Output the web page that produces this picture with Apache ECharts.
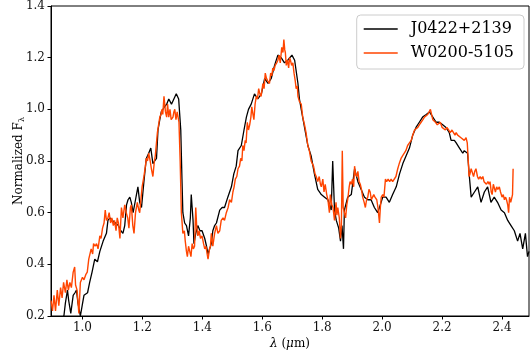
<!DOCTYPE html>
<html>
<head>
<meta charset="utf-8">
<script src="https://cdn.jsdelivr.net/npm/echarts@6/dist/echarts.min.js"></script>
<style>html,body{margin:0;padding:0;background:#fff}#c{width:530px;height:356px}</style>
</head>
<body>
<div id="c"></div>
<script>
const seriesNames = ['J0422+2139', 'W0200-5105'];
const xTicks = [1.0, 1.2, 1.4, 1.6, 1.8, 2.0, 2.2, 2.4];
const yTicks = [0.2, 0.4, 0.6, 0.8, 1.0, 1.2, 1.4];

const blackWl = [0.930,0.938,0.943,0.950,0.954,0.961,0.969,0.975,0.980,0.985,0.993,0.999,1.005,1.011,1.017,1.024,1.032,1.041,1.050,1.058,1.069,1.080,1.085,1.092,1.100,1.110,1.120,1.128,1.135,1.141,1.147,1.152,1.158,1.163,1.169,1.177,1.185,1.191,1.197,1.205,1.213,1.221,1.228,1.235,1.241,1.247,1.252,1.258,1.263,1.274,1.281,1.288,1.297,1.305,1.313,1.321,1.328,1.332,1.335,1.341,1.347,1.354,1.360,1.363,1.366,1.369,1.372,1.378,1.385,1.392,1.399,1.408,1.414,1.419,1.424,1.430,1.435,1.441,1.447,1.458,1.466,1.474,1.485,1.497,1.505,1.513,1.519,1.530,1.539,1.547,1.554,1.563,1.574,1.585,1.597,1.608,1.619,1.630,1.641,1.652,1.663,1.674,1.685,1.699,1.708,1.719,1.724,1.730,1.741,1.752,1.763,1.774,1.785,1.797,1.808,1.819,1.830,1.835,1.841,1.847,1.855,1.861,1.866,1.871,1.874,1.885,1.897,1.908,1.919,1.930,1.941,1.952,1.963,1.974,1.985,1.991,2.002,2.013,2.024,2.035,2.047,2.058,2.069,2.080,2.091,2.102,2.113,2.124,2.135,2.147,2.158,2.169,2.180,2.191,2.202,2.213,2.224,2.230,2.241,2.247,2.258,2.269,2.274,2.285,2.291,2.297,2.308,2.319,2.330,2.341,2.352,2.363,2.374,2.385,2.397,2.408,2.419,2.430,2.441,2.452,2.460,2.469,2.478,2.485,2.490];
const blackFlux = [0.17,0.20,0.25,0.30,0.26,0.21,0.28,0.29,0.30,0.25,0.20,0.24,0.28,0.28,0.29,0.33,0.37,0.42,0.41,0.45,0.49,0.52,0.57,0.58,0.57,0.56,0.55,0.53,0.52,0.55,0.63,0.65,0.66,0.64,0.60,0.65,0.70,0.64,0.62,0.72,0.81,0.83,0.85,0.79,0.80,0.81,0.92,0.96,0.99,1.01,1.02,1.04,1.02,1.04,1.06,1.04,0.92,0.73,0.60,0.56,0.55,0.51,0.58,0.67,0.62,0.57,0.48,0.52,0.55,0.53,0.53,0.50,0.47,0.44,0.44,0.48,0.53,0.55,0.56,0.61,0.62,0.62,0.66,0.70,0.75,0.78,0.84,0.86,0.92,0.97,1.00,1.02,1.06,1.04,1.06,1.12,1.10,1.12,1.17,1.21,1.20,1.18,1.19,1.21,1.19,1.10,1.04,1.00,0.93,0.86,0.82,0.75,0.69,0.67,0.66,0.65,0.61,0.80,0.61,0.57,0.54,0.49,0.55,0.46,0.61,0.66,0.67,0.77,0.72,0.69,0.66,0.65,0.65,0.62,0.60,0.62,0.66,0.66,0.64,0.67,0.70,0.75,0.79,0.82,0.85,0.90,0.93,0.95,0.97,0.98,0.99,0.97,0.95,0.95,0.94,0.93,0.91,0.88,0.88,0.87,0.85,0.83,0.84,0.83,0.74,0.66,0.68,0.70,0.64,0.68,0.70,0.64,0.66,0.64,0.61,0.60,0.57,0.55,0.53,0.49,0.52,0.46,0.52,0.43,0.45];

const orangeWl = [0.895,0.900,0.905,0.910,0.916,0.921,0.927,0.932,0.937,0.943,0.948,0.953,0.958,0.963,0.969,0.974,0.977,0.982,0.988,0.993,1.000,1.005,1.011,1.016,1.021,1.029,1.034,1.037,1.042,1.047,1.052,1.058,1.062,1.067,1.072,1.076,1.080,1.085,1.089,1.094,1.098,1.103,1.107,1.112,1.116,1.120,1.125,1.130,1.135,1.141,1.146,1.151,1.155,1.160,1.163,1.168,1.172,1.177,1.183,1.188,1.191,1.199,1.205,1.210,1.213,1.217,1.221,1.226,1.230,1.235,1.240,1.243,1.250,1.254,1.258,1.262,1.265,1.268,1.272,1.277,1.281,1.284,1.288,1.292,1.296,1.302,1.305,1.308,1.312,1.316,1.319,1.322,1.326,1.330,1.335,1.340,1.343,1.347,1.350,1.354,1.358,1.362,1.366,1.370,1.374,1.378,1.381,1.385,1.389,1.394,1.399,1.404,1.408,1.412,1.416,1.419,1.424,1.427,1.430,1.435,1.441,1.447,1.452,1.458,1.463,1.469,1.474,1.480,1.486,1.491,1.497,1.502,1.506,1.510,1.515,1.519,1.524,1.528,1.532,1.535,1.539,1.543,1.546,1.550,1.554,1.558,1.562,1.565,1.569,1.572,1.576,1.580,1.584,1.588,1.592,1.596,1.602,1.606,1.610,1.614,1.618,1.624,1.628,1.632,1.635,1.639,1.643,1.648,1.652,1.656,1.660,1.665,1.669,1.672,1.675,1.677,1.680,1.684,1.688,1.691,1.694,1.698,1.702,1.706,1.710,1.713,1.717,1.719,1.724,1.730,1.735,1.741,1.746,1.752,1.757,1.763,1.767,1.771,1.776,1.780,1.785,1.790,1.794,1.797,1.802,1.806,1.810,1.815,1.819,1.824,1.827,1.832,1.836,1.841,1.846,1.849,1.852,1.857,1.861,1.864,1.867,1.870,1.874,1.878,1.882,1.885,1.890,1.893,1.897,1.901,1.905,1.908,1.911,1.915,1.919,1.923,1.927,1.931,1.935,1.940,1.944,1.948,1.952,1.956,1.960,1.964,1.968,1.972,1.976,1.982,1.986,1.991,1.994,1.997,2.002,2.006,2.011,2.015,2.020,2.025,2.030,2.035,2.041,2.046,2.052,2.057,2.063,2.068,2.074,2.079,2.085,2.091,2.097,2.102,2.108,2.113,2.119,2.124,2.130,2.136,2.141,2.147,2.152,2.157,2.161,2.165,2.169,2.174,2.178,2.184,2.189,2.194,2.200,2.206,2.211,2.216,2.222,2.227,2.233,2.238,2.243,2.247,2.252,2.258,2.263,2.269,2.274,2.280,2.284,2.287,2.290,2.293,2.297,2.300,2.305,2.309,2.313,2.318,2.322,2.327,2.331,2.336,2.340,2.344,2.348,2.353,2.357,2.360,2.364,2.367,2.371,2.374,2.378,2.382,2.386,2.391,2.395,2.400,2.404,2.408,2.412,2.415,2.419,2.422,2.425,2.429,2.433,2.435,2.437];
const orangeFlux = [0.26,0.22,0.28,0.22,0.30,0.24,0.31,0.27,0.33,0.29,0.34,0.30,0.33,0.31,0.37,0.39,0.32,0.30,0.21,0.33,0.35,0.34,0.36,0.37,0.42,0.46,0.44,0.48,0.47,0.48,0.46,0.51,0.50,0.54,0.56,0.61,0.57,0.58,0.60,0.56,0.58,0.55,0.57,0.53,0.58,0.56,0.50,0.62,0.58,0.63,0.60,0.58,0.54,0.62,0.63,0.55,0.52,0.60,0.64,0.61,0.60,0.70,0.74,0.78,0.81,0.80,0.83,0.80,0.77,0.74,0.80,0.82,0.91,0.94,0.97,0.98,1.00,0.98,1.05,0.99,0.97,1.02,0.97,1.00,0.96,0.97,0.99,1.00,0.96,0.99,0.99,0.95,0.80,0.60,0.52,0.53,0.49,0.45,0.43,0.47,0.47,0.43,0.48,0.46,0.47,0.62,0.55,0.51,0.53,0.50,0.51,0.48,0.46,0.47,0.44,0.42,0.46,0.47,0.52,0.47,0.52,0.55,0.52,0.53,0.57,0.58,0.57,0.60,0.62,0.65,0.64,0.68,0.70,0.73,0.74,0.77,0.78,0.81,0.80,0.86,0.84,0.88,0.87,0.95,0.92,0.94,0.97,1.01,0.98,0.96,1.02,1.05,1.04,1.08,1.06,1.05,1.10,1.08,1.14,1.12,1.11,1.10,1.14,1.13,1.16,1.15,1.17,1.18,1.19,1.21,1.18,1.24,1.22,1.27,1.23,1.22,1.17,1.19,1.16,1.20,1.19,1.17,1.18,1.14,1.11,1.08,1.09,1.05,1.03,1.02,0.97,0.94,0.91,0.86,0.84,0.80,0.79,0.78,0.75,0.74,0.72,0.74,0.71,0.70,0.73,0.68,0.71,0.67,0.65,0.60,0.67,0.63,0.62,0.57,0.64,0.59,0.62,0.58,0.50,0.55,0.84,0.62,0.60,0.58,0.63,0.65,0.70,0.72,0.71,0.73,0.70,0.78,0.75,0.74,0.76,0.72,0.71,0.69,0.66,0.64,0.62,0.65,0.66,0.69,0.68,0.65,0.66,0.67,0.66,0.65,0.62,0.56,0.62,0.66,0.67,0.66,0.73,0.72,0.73,0.72,0.73,0.72,0.72,0.74,0.77,0.79,0.81,0.82,0.82,0.84,0.86,0.87,0.88,0.90,0.92,0.92,0.93,0.94,0.95,0.96,0.97,0.97,0.98,0.98,1.00,0.98,0.96,0.96,0.95,0.94,0.94,0.95,0.93,0.93,0.92,0.93,0.92,0.91,0.92,0.91,0.90,0.91,0.90,0.90,0.89,0.89,0.88,0.89,0.87,0.81,0.74,0.75,0.77,0.77,0.74,0.76,0.77,0.74,0.73,0.74,0.73,0.74,0.72,0.72,0.71,0.72,0.71,0.72,0.68,0.67,0.71,0.71,0.68,0.70,0.69,0.70,0.68,0.66,0.67,0.65,0.66,0.65,0.63,0.60,0.66,0.64,0.64,0.67,0.77];

const FONT = 'DejaVu Serif';
const pair = (xs, ys) => xs.map((x, i) => [x, ys[i]]);

const chart = echarts.init(document.getElementById('c'), null, {renderer: 'canvas'});
chart.setOption({
  animation: false,
  backgroundColor: '#fff',
  grid: {left: 51, right: 1, top: 6, bottom: 40, containLabel: false, outerBoundsMode: 'none', show: true, borderColor: '#000', borderWidth: 1, backgroundColor: 'transparent'},
  legend: {
    orient: 'vertical', right: 6, top: 15,
    data: seriesNames,
    icon: 'rect', itemWidth: 34, itemHeight: 1.6, itemGap: 4,
    padding: [4, 10, 6, 7],
    backgroundColor: 'rgba(255,255,255,0.85)', borderColor: '#cccccc', borderWidth: 1, borderRadius: 4,
    textStyle: {fontFamily: FONT, fontSize: 16, color: '#000', lineHeight: 20, padding: [0, 0, 0, 8]}
  },
  xAxis: {
    type: 'value', min: 0.895, max: 2.49,
    name: '{i|λ} ({i|μ}m)', nameLocation: 'middle', nameGap: 22, nameMoveOverlap: false,
    nameTextStyle: {fontFamily: FONT, fontSize: 12, color: '#000', rich: {i: {fontFamily: FONT, fontSize: 12, fontStyle: 'italic', color: '#000'}}},
    axisLine: {show: true, onZero: false, lineStyle: {color: '#000', width: 1}},
    axisTick: {show: true, inside: false, length: 3.5, customValues: xTicks, lineStyle: {color: '#000'}},
    axisLabel: {customValues: xTicks, margin: 6, fontFamily: FONT, fontSize: 12, color: '#111', formatter: v => Number(v).toFixed(1)},
    splitLine: {show: false}
  },
  yAxis: {
    type: 'value', min: 0.2, max: 1.4, interval: 0.2,
    name: 'Normalized F{s|λ}', nameLocation: 'middle', nameGap: 25, nameMoveOverlap: false,
    nameTextStyle: {fontFamily: FONT, fontSize: 12, color: '#000', rich: {s: {fontFamily: FONT, fontSize: 8, color: '#000', verticalAlign: 'bottom', padding: [6, 0, 0, 0]}}},
    axisLine: {show: true, onZero: false, lineStyle: {color: '#000', width: 1}},
    axisTick: {show: true, inside: false, length: 3.5, lineStyle: {color: '#000'}},
    axisLabel: {margin: 6, fontFamily: FONT, fontSize: 12, color: '#111', formatter: v => Number(v).toFixed(1)},
    splitLine: {show: false}
  },
  series: [
    {name: seriesNames[0], type: 'line', data: pair(blackWl, blackFlux), showSymbol: false, symbol: 'none', color: '#000', lineStyle: {color: '#000', width: 1.3}, z: 2},
    {name: seriesNames[1], type: 'line', data: pair(orangeWl, orangeFlux), showSymbol: false, symbol: 'none', color: '#ff4500', lineStyle: {color: '#ff4500', width: 1.4}, z: 3}
  ]
});
</script>
</body>
</html>
